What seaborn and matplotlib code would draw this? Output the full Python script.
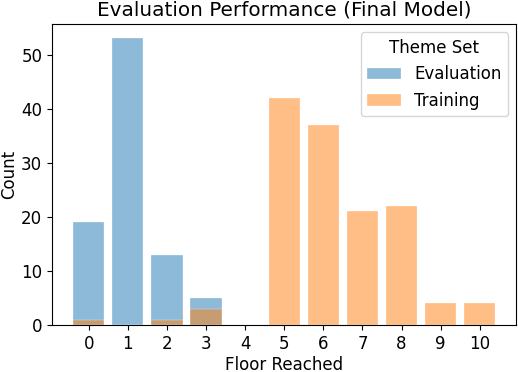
import matplotlib
matplotlib.use("Agg")
import matplotlib.pyplot as plt
import seaborn as sns
import pandas as pd

floors = [0, 1, 2, 3, 4, 5, 6, 7, 8, 9, 10]
evaluation_counts = [19, 53, 13, 5, 0, 0, 0, 0, 0, 0, 0]
training_counts = [1, 0, 1, 3, 0, 42, 37, 21, 22, 4, 4]
series_names = ["Evaluation", "Training"]
series_colors = ["#1f77b4", "#ff7f0e"]

df = pd.DataFrame({"Floor Reached": floors,
                   "Evaluation": evaluation_counts,
                   "Training": training_counts})

plt.rcParams["font.size"] = 12

fig, ax = plt.subplots(figsize=(5.18, 3.72), dpi=100)
for name, col in zip(series_names, series_colors):
    sns.histplot(data=df, x="Floor Reached", weights=name,
                 discrete=True, shrink=0.8, color=col, alpha=0.5,
                 edgecolor="white", linewidth=0.2, label=name, ax=ax)

ax.set_xticks(floors)
ax.margins(x=0.05)
ax.set_ylim(0, 55.65)
ax.set_xlabel("Floor Reached", fontsize=12, labelpad=2)
ax.set_ylabel("Count", fontsize=12, labelpad=2)
ax.set_title("Evaluation Performance (Final Model)", fontsize=14.4)
ax.tick_params(labelsize=12)
ax.legend(title="Theme Set", fontsize=12, title_fontsize=12)

fig.subplots_adjust(left=0.1004, right=0.997, top=0.9355, bottom=0.1263)
fig.savefig("out.png", dpi=100)
